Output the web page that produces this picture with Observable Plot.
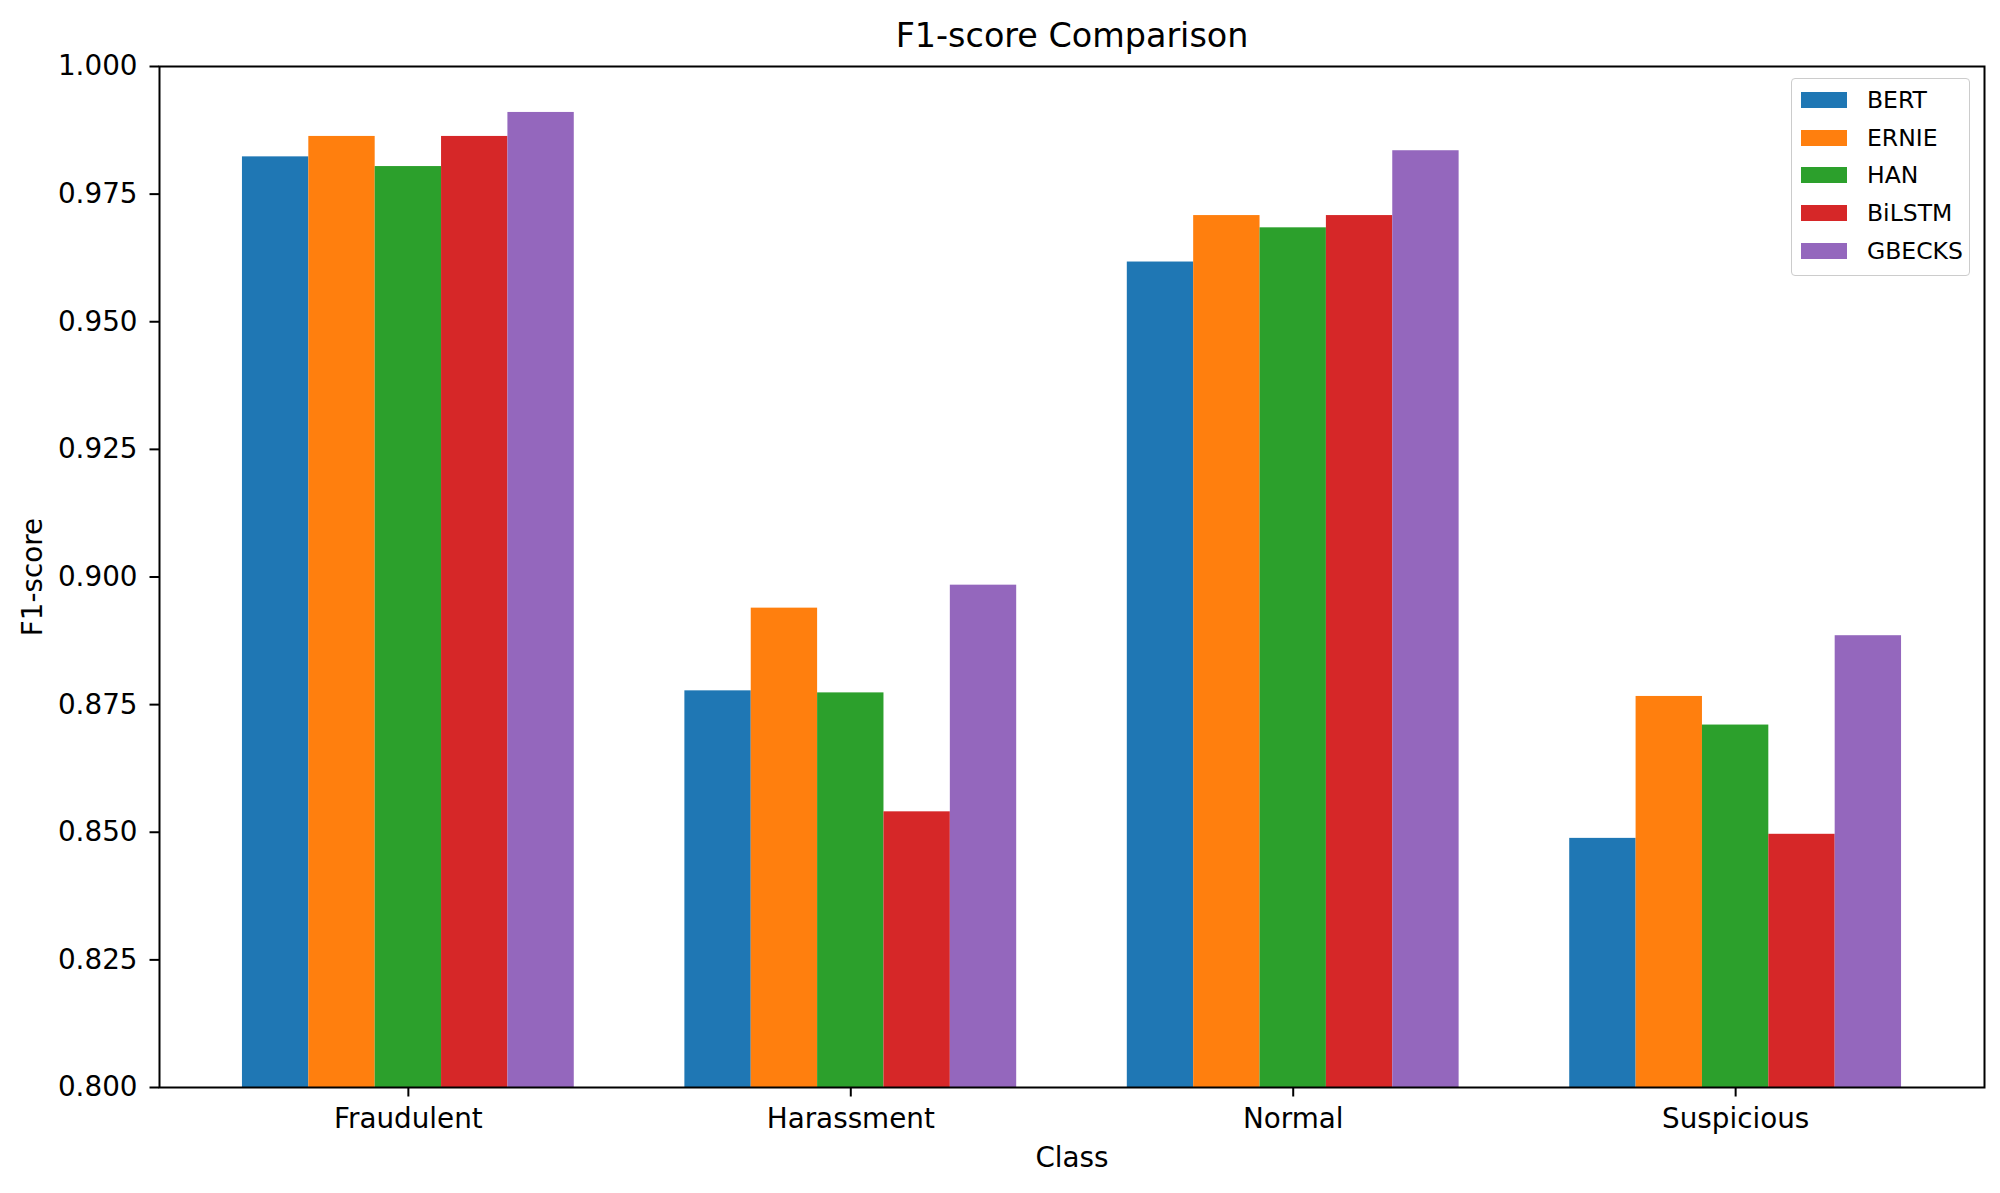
<!DOCTYPE html>
<html>
<head>
<meta charset="utf-8">
<script src="https://cdn.jsdelivr.net/npm/d3@7"></script>
<script src="https://cdn.jsdelivr.net/npm/@observablehq/plot@0.6"></script>
<style>
  html, body { margin: 0; padding: 0; background: #ffffff; overflow: hidden; }
  #wrap { position: relative; width: 2000px; height: 1193px; font-family: "DejaVu Sans", sans-serif; }
  #legend {
    position: absolute; left: 1791px; top: 78px; width: 177px; height: 196px;
    border: 1.5px solid #cccccc; border-radius: 4px; background: rgba(255,255,255,0.8);
    box-sizing: content-box;
  }
  .lrow { position: absolute; left: 9px; height: 30px; display: flex; align-items: center; }
  .lsw { width: 46px; height: 16px; margin-right: 20px; }
  .ltx { font-size: 23.5px; color: #000; line-height: 30px; }
</style>
</head>
<body>
<div id="wrap"></div>
<script>
// ---- data ----
const classes = ["Fraudulent", "Harassment", "Normal", "Suspicious"];
const models = ["BERT", "ERNIE", "HAN", "BiLSTM", "GBECKS"];
const bertScores   = [0.9823, 0.8777, 0.9617, 0.8488];
const ernieScores  = [0.9863, 0.8939, 0.9708, 0.8766];
const hanScores    = [0.9804, 0.8773, 0.9684, 0.8710];
const bilstmScores = [0.9863, 0.8540, 0.9708, 0.8496];
const gbecksScores = [0.9910, 0.8984, 0.9835, 0.8885];
const colors = ["#1f77b4", "#ff7f0e", "#2ca02c", "#d62728", "#9467bd"];
const yTicks = [0.800, 0.825, 0.850, 0.875, 0.900, 0.925, 0.950, 0.975, 1.000];
const titleText = "F1-score Comparison";
const xLabel = "Class";
const yLabel = "F1-score";

// ---- layout (grouped bars, as in matplotlib: x = class index + offset per model) ----
const barWidth = 0.15;
const seriesByModel = [bertScores, ernieScores, hanScores, bilstmScores, gbecksScores];
const rows = [];
classes.forEach((c, i) => {
  models.forEach((m, j) => {
    const center = i + (j - (models.length - 1) / 2) * barWidth;
    rows.push({cls: c, model: m, value: seriesByModel[j][i],
               x1: center - barWidth / 2, x2: center + barWidth / 2});
  });
});
const lo = -models.length * barWidth / 2;
const hi = classes.length - 1 + models.length * barWidth / 2;
const pad = 0.05 * (hi - lo);
const classIdx = classes.map((_, i) => i);

const FONT = 27.8;

const chart = Plot.plot({
  width: 2000,
  height: 1193,
  marginLeft: 159,
  marginRight: 16,
  marginTop: 66,
  marginBottom: 106,
  style: {fontFamily: "DejaVu Sans, sans-serif", fontSize: FONT + "px", color: "#000", background: "#ffffff"},
  x: {type: "linear", domain: [lo - pad, hi + pad], axis: null},
  y: {domain: [0.8, 1.0], axis: null},
  color: {domain: models, range: colors},
  marks: [
    Plot.rect(rows, {x1: "x1", x2: "x2", y1: 0.8, y2: "value", fill: "model"}),
    Plot.axisY({ticks: yTicks, tickFormat: d3.format(".3f"), tickSize: 9.5, tickPadding: 12.5,
      fontSize: FONT, strokeWidth: 2, label: null, anchor: "left"}),
    Plot.axisX({ticks: classIdx, tickFormat: (i) => classes[i], anchor: "bottom",
      tickSize: 9.5, tickPadding: 11.5, fontSize: FONT, strokeWidth: 2, label: null}),
    Plot.frame({stroke: "#000", strokeWidth: 2}),
    Plot.text([titleText], {frameAnchor: "top", lineAnchor: "middle", textAnchor: "middle",
      dy: -30, fontSize: 33.4, fill: "#000"}),
    Plot.text([xLabel], {frameAnchor: "bottom", lineAnchor: "middle", textAnchor: "middle",
      dy: 71, fontSize: FONT, fill: "#000"}),
    Plot.text([yLabel], {frameAnchor: "left", lineAnchor: "middle", textAnchor: "middle",
      dx: -126, rotate: -90, fontSize: FONT, fill: "#000"})
  ]
});

const wrap = document.getElementById("wrap");
wrap.appendChild(chart);

// legend (HTML overlay, colours from the Plot colour scale)
const colorScale = chart.scale("color");
const legend = document.createElement("div");
legend.id = "legend";
models.forEach((m, i) => {
  const row = document.createElement("div");
  row.className = "lrow";
  row.style.top = (20.7 - 15 + i * 37.8) + "px";
  const sw = document.createElement("div");
  sw.className = "lsw";
  sw.style.background = colorScale.apply(m);
  const tx = document.createElement("span");
  tx.className = "ltx";
  tx.textContent = m;
  row.appendChild(sw);
  row.appendChild(tx);
  legend.appendChild(row);
});
wrap.appendChild(legend);
</script>
</body>
</html>
